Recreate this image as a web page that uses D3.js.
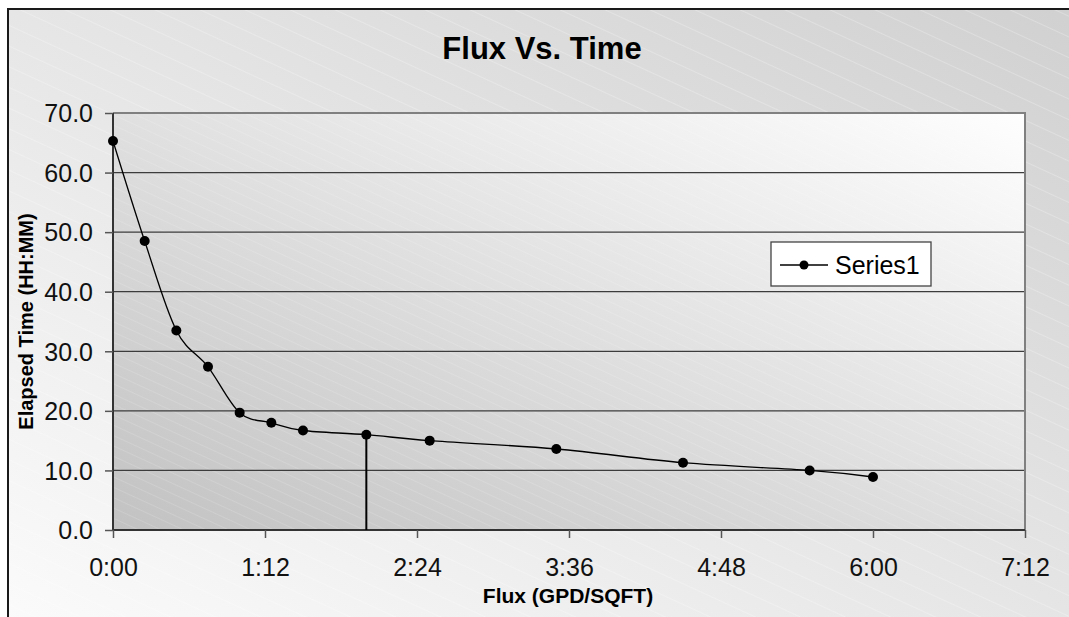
<!DOCTYPE html>
<html>
<head>
<meta charset="utf-8">
<script src="https://cdn.jsdelivr.net/npm/d3@7"></script>
<style>
  body { margin: 0; background: #fff; overflow: hidden; }
  svg { display: block; font-family: "Liberation Sans", Arial, sans-serif; }
</style>
</head>
<body>
<svg id="chart" width="1069" height="617"></svg>
<script>
// data: minutes elapsed vs value
var elapsedMin = [0, 15, 30, 45, 60, 75, 90, 120, 150, 210, 270, 330, 360];
var fluxVals = [65.3, 48.5, 33.5, 27.4, 19.7, 18.0, 16.7, 16.0, 15.0, 13.6, 11.3, 10.0, 8.9];
var seriesNames = ['Series1'];
var xTicks = [0, 72, 144, 216, 288, 360, 432];
var yTicks = [0, 10, 20, 30, 40, 50, 60, 70];
var dropAt = [120]; // vertical line down to the axis

var svg = d3.select('#chart');
var plot = { left: 113, right: 1025, top: 113, bottom: 530 };

var defs = svg.append('defs');

function gradient(id, from, to) {
	var g = defs.append('linearGradient')
		.attr('id', id)
		.attr('x1', 0).attr('y1', 1)
		.attr('x2', 1).attr('y2', 0);
	g.append('stop').attr('offset', '0%').attr('stop-color', from);
	g.append('stop').attr('offset', '100%').attr('stop-color', to);
}
gradient('outerGrad', '#fdfdfd', '#cfcfcf');
gradient('plotGrad', '#c2c2c2', '#fefefe');

function stripes(id, gap, op) {
	var p = defs.append('pattern')
		.attr('id', id)
		.attr('patternUnits', 'userSpaceOnUse')
		.attr('width', 40)
		.attr('height', gap)
		.attr('patternTransform', 'rotate(24.7)');
	p.append('line')
		.attr('x1', 0).attr('x2', 40)
		.attr('y1', 0.5).attr('y2', 0.5)
		.attr('stroke', '#fff')
		.attr('stroke-opacity', op)
		.attr('stroke-width', 0.8);
}
stripes('outerStripes', 18.8, 0.3);
stripes('plotStripes', 9.4, 0.18);

// chart area (runs past the right and bottom edge, only left/top border shows)
var outer = { x: 8, y: 9, w: 1140, h: 680 };
svg.append('rect')
	.attr('x', outer.x).attr('y', outer.y)
	.attr('width', outer.w).attr('height', outer.h)
	.attr('fill', 'url(#outerGrad)');
svg.append('rect')
	.attr('x', outer.x).attr('y', outer.y)
	.attr('width', outer.w).attr('height', outer.h)
	.attr('fill', 'url(#outerStripes)');
svg.append('path')
	.attr('d', 'M' + outer.x + ',' + (outer.y + outer.h) + 'V' + outer.y + 'H' + (outer.x + outer.w))
	.attr('fill', 'none')
	.attr('stroke', '#1a1a1a')
	.attr('stroke-width', 2);

var x = d3.scaleLinear().domain([0, 432]).range([plot.left, plot.right]);
var y = d3.scaleLinear().domain([0, 70]).range([plot.bottom, plot.top]);

// plot area
svg.append('rect')
	.attr('x', plot.left).attr('y', plot.top)
	.attr('width', plot.right - plot.left).attr('height', plot.bottom - plot.top)
	.attr('fill', 'url(#plotGrad)');
svg.append('rect')
	.attr('x', plot.left).attr('y', plot.top)
	.attr('width', plot.right - plot.left).attr('height', plot.bottom - plot.top)
	.attr('fill', 'url(#plotStripes)');

// gridlines
svg.append('g')
	.selectAll('line')
	.data(yTicks.filter(function(d) { return d > 0 && d < 70; }))
	.enter()
	.append('line')
	.attr('x1', plot.left).attr('x2', plot.right)
	.attr('y1', function(d) { return y(d); })
	.attr('y2', function(d) { return y(d); })
	.attr('stroke', '#3c3c3c')
	.attr('stroke-width', 1.2);

// plot border top / right (gray)
svg.append('path')
	.attr('d', 'M' + plot.left + ',' + plot.top + 'H' + plot.right + 'V' + plot.bottom)
	.attr('fill', 'none')
	.attr('stroke', '#808080')
	.attr('stroke-width', 2);

function fmtTime(m) {
	var h = Math.floor(m / 60), mm = m % 60;
	return h + ':' + (mm < 10 ? '0' : '') + mm;
}

var xAxis = svg.append('g')
	.attr('transform', 'translate(0,' + plot.bottom + ')')
	.call(d3.axisBottom(x).tickValues(xTicks).tickFormat(fmtTime).tickSize(8).tickPadding(20));

var yAxis = svg.append('g')
	.attr('transform', 'translate(' + plot.left + ',0)')
	.call(d3.axisLeft(y).tickValues(yTicks).tickFormat(d3.format('.1f')).tickSize(8).tickPadding(12));

[xAxis, yAxis].forEach(function(a) {
	a.select('.domain').attr('stroke', '#333').attr('stroke-width', 2);
	a.selectAll('.tick line').attr('stroke', '#555').attr('stroke-width', 1.5);
	a.selectAll('.tick text')
		.attr('fill', '#111')
		.style('font-size', '25px')
		.style('font-family', '"Liberation Sans", Arial, sans-serif');
});
xAxis.select('.domain').attr('d', 'M' + plot.left + ',0H' + plot.right);
yAxis.select('.domain').attr('d', 'M0,' + plot.top + 'V' + plot.bottom);
yAxis.selectAll('.tick text').attr('dy', '0.35em');

// drop line
svg.append('g')
	.selectAll('line')
	.data(dropAt)
	.enter()
	.append('line')
	.attr('x1', function(d) { return x(d); })
	.attr('x2', function(d) { return x(d); })
	.attr('y1', function(d) { return y(fluxVals[elapsedMin.indexOf(d)]); })
	.attr('y2', y(0))
	.attr('stroke', '#000')
	.attr('stroke-width', 2);

var pts = elapsedMin.map(function(t, i) { return { t: t, v: fluxVals[i] }; });

var line = d3.line()
	.x(function(d) { return x(d.t); })
	.y(function(d) { return y(d.v); })
	.curve(d3.curveCardinal.tension(0));

svg.append('path')
	.datum(pts)
	.attr('d', line)
	.attr('fill', 'none')
	.attr('stroke', '#000')
	.attr('stroke-width', 1.3);

svg.append('g')
	.selectAll('circle')
	.data(pts)
	.enter()
	.append('circle')
	.attr('cx', function(d) { return x(d.t); })
	.attr('cy', function(d) { return y(d.v); })
	.attr('r', 5)
	.attr('fill', '#000');

// titles
svg.append('text')
	.attr('x', 542)
	.attr('y', 59)
	.attr('text-anchor', 'middle')
	.style('font-size', '31px')
	.style('font-weight', 'bold')
	.attr('fill', '#000')
	.text('Flux Vs. Time');

svg.append('text')
	.attr('x', (plot.left + plot.right) / 2 - 1)
	.attr('y', 603)
	.attr('text-anchor', 'middle')
	.style('font-size', '21px')
	.style('font-weight', 'bold')
	.text('Flux (GPD/SQFT)');

svg.append('text')
	.attr('transform', 'translate(33,' + (plot.top + plot.bottom) / 2 + ') rotate(-90)')
	.attr('text-anchor', 'middle')
	.style('font-size', '20px')
	.style('font-weight', 'bold')
	.text('Elapsed Time (HH:MM)');

// legend
var legend = svg.append('g').attr('transform', 'translate(771,242)');
legend.append('rect')
	.attr('width', 160).attr('height', 44)
	.attr('fill', '#fff')
	.attr('stroke', '#444')
	.attr('stroke-width', 1.3);
var items = legend.selectAll('.item').data(seriesNames)
	.enter()
	.append('g')
	.attr('class', 'item')
	.attr('transform', function(d, i) { return 'translate(0,' + (23 + i * 30) + ')'; });
items.append('line')
	.attr('x1', 9).attr('x2', 57)
	.attr('stroke', '#000').attr('stroke-width', 1.3);
items.append('circle')
	.attr('cx', 33).attr('r', 4.5).attr('fill', '#000');
items.append('text')
	.attr('x', 64).attr('y', 9)
	.style('font-size', '25px')
	.attr('fill', '#000')
	.text(function(d) { return d; });
</script>
</body>
</html>
